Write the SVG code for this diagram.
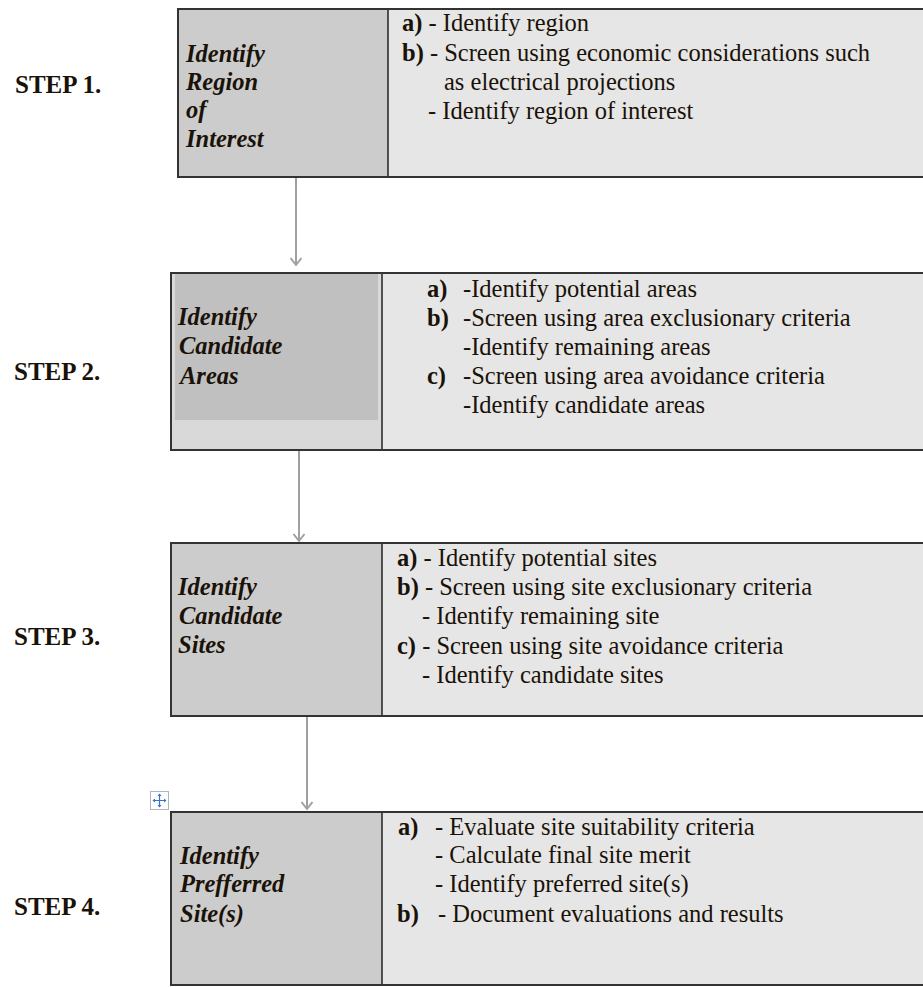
<svg xmlns="http://www.w3.org/2000/svg" width="923" height="987" viewBox="0 0 923 987">
<defs>
<style>
.bg{fill:#ffffff}
.lc{fill:#cccccc}
.rc{fill:#e6e6e6}
.frame{fill:none;stroke:#333333;stroke-width:2}
.div{stroke:#222222;stroke-width:1.5}
.conn{stroke:#a0a0a0;stroke-width:2;fill:none}
text{font-family:"Liberation Serif","Times New Roman",serif;fill:#1a1208}
.t{font-size:24.5px}
.h{font-size:24.5px;font-style:italic;font-weight:bold}
.s{font-size:25px;font-weight:bold}
.b{font-weight:bold}
</style>
<marker id="ah" markerWidth="14" markerHeight="14" refX="7" refY="11" orient="0" markerUnits="userSpaceOnUse">
<path d="M1.5,4 L7,11 L12.5,4" fill="none" stroke="#a0a0a0" stroke-width="2"/>
</marker>
</defs>
<rect class="bg" x="0" y="0" width="923" height="987"/>

<g id="connectors">
<line class="conn" x1="296" y1="178" x2="296" y2="265" marker-end="url(#ah)"/>
<line class="conn" x1="299" y1="450" x2="299" y2="541" marker-end="url(#ah)"/>
<line class="conn" x1="307" y1="717" x2="307" y2="809" marker-end="url(#ah)"/>
</g>

<g id="step1">
<text class="s" x="15" y="93">STEP 1.</text>
<rect class="lc" x="178" y="9" width="210" height="168"/>
<rect class="rc" x="388" y="9" width="540" height="168"/>
<line class="div" x1="388" y1="9" x2="388" y2="177"/>
<rect class="frame" x="178" y="9" width="750" height="168"/>
<text class="h" x="186" y="62">Identify</text>
<text class="h" x="186" y="90">Region</text>
<text class="h" x="186" y="118">of</text>
<text class="h" x="186" y="147">Interest</text>
<text class="t" x="402" y="31"><tspan class="b">a)</tspan> - Identify region</text>
<text class="t" x="402" y="60.5"><tspan class="b">b)</tspan> - Screen using economic considerations such</text>
<text class="t" x="444" y="90">as electrical projections</text>
<text class="t" x="428" y="119">- Identify region of interest</text>
</g>

<g id="step2">
<text class="s" x="14" y="380">STEP 2.</text>
<rect x="171" y="273" width="211" height="177" fill="#d9d9d9"/>
<rect x="175" y="274" width="203" height="146" fill="#c0c0c0"/>
<rect class="rc" x="382" y="273" width="546" height="177"/>
<line class="div" x1="382" y1="273" x2="382" y2="450"/>
<rect class="frame" x="171" y="273" width="757" height="177"/>
<text class="h" x="178" y="325">Identify</text>
<text class="h" x="179" y="354">Candidate</text>
<text class="h" x="180" y="384">Areas</text>
<text class="t b" x="427" y="297">a)</text>
<text class="t" x="463" y="297">-Identify potential areas</text>
<text class="t b" x="427" y="326">b)</text>
<text class="t" x="463" y="326">-Screen using area exclusionary criteria</text>
<text class="t" x="463" y="355">-Identify remaining areas</text>
<text class="t b" x="427" y="384">c)</text>
<text class="t" x="463" y="384">-Screen using area avoidance criteria</text>
<text class="t" x="463" y="413">-Identify candidate areas</text>
</g>

<g id="step3">
<text class="s" x="14" y="645">STEP 3.</text>
<rect class="lc" x="171" y="543" width="211" height="173"/>
<rect class="rc" x="382" y="543" width="546" height="173"/>
<line class="div" x1="382" y1="543" x2="382" y2="716"/>
<rect class="frame" x="171" y="543" width="757" height="173"/>
<text class="h" x="178" y="595">Identify</text>
<text class="h" x="179" y="624">Candidate</text>
<text class="h" x="178" y="653">Sites</text>
<text class="t" x="397" y="566"><tspan class="b">a)</tspan> - Identify potential sites</text>
<text class="t" x="397" y="595"><tspan class="b">b)</tspan> - Screen using site exclusionary criteria</text>
<text class="t" x="422" y="624">- Identify remaining site</text>
<text class="t" x="397" y="654"><tspan class="b">c)</tspan> - Screen using site avoidance criteria</text>
<text class="t" x="422" y="683">- Identify candidate sites</text>
</g>

<g id="handle">
<rect x="150.5" y="791.5" width="18" height="18" fill="#ffffff" stroke="#b0b4bc" stroke-width="1"/>
<path d="M159.5,794 V807 M153 800.5 H166" stroke="#3a6fd0" stroke-width="1.2"/>
<path d="M159.5,793.5 l-2,2.5 h4 z M159.5,807.5 l-2,-2.5 h4 z M152.5,800.5 l2.5,-2 v4 z M166.5,800.5 l-2.5,-2 v4 z" fill="#3a6fd0"/>
</g>

<g id="step4">
<text class="s" x="14" y="915">STEP 4.</text>
<rect class="lc" x="171" y="812" width="211" height="173"/>
<rect class="rc" x="382" y="812" width="546" height="173"/>
<line class="div" x1="382" y1="812" x2="382" y2="985"/>
<rect class="frame" x="171" y="812" width="757" height="173"/>
<text class="h" x="180" y="864">Identify</text>
<text class="h" x="180" y="892">Prefferred</text>
<text class="h" x="180" y="922">Site(s)</text>
<text class="t b" x="398" y="835">a)</text>
<text class="t" x="435" y="835">- Evaluate site suitability criteria</text>
<text class="t" x="435" y="863">- Calculate final site merit</text>
<text class="t" x="435" y="892">- Identify preferred site(s)</text>
<text class="t b" x="397" y="922">b)</text>
<text class="t" x="438" y="922">- Document evaluations and results</text>
</g>
</svg>
